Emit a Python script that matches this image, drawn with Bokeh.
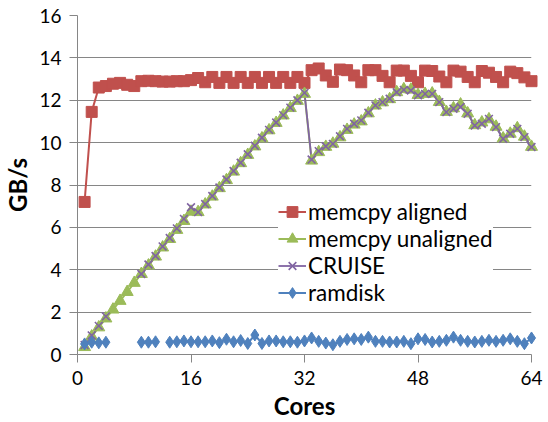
from bokeh.plotting import figure
from bokeh.models import Range1d, FixedTicker, Legend, LegendItem
from bokeh.embed import file_html
from bokeh.resources import INLINE

nan = float("nan")

cores = list(range(1, 65))

memcpy_aligned = [
    7.2, 11.45, 12.6, 12.67, 12.78, 12.82, 12.73, 12.67, 12.9, 12.92,
    12.9, 12.88, 12.88, 12.9, 12.9, 12.95, 13.05, 12.85, 13.1, 12.82,
    13.1, 12.82, 13.1, 12.82, 13.1, 12.82, 13.1, 12.82, 13.1, 12.82,
    13.1, 12.82, 13.42, 13.5, 13.17, 12.87, 13.45, 13.42, 13.17, 12.85,
    13.42, 13.42, 13.15, 12.85, 13.4, 13.4, 13.15, 12.85, 13.4, 13.38,
    13.12, 12.85, 13.4, 13.35, 13.1, 12.85, 13.38, 13.3, 13.1, 12.85,
    13.35, 13.28, 13.08, 12.9,
]

memcpy_unaligned = [
    0.35, 0.85, 1.28, 1.7, 2.12, 2.53, 2.95, 3.38, 3.8, 4.2,
    4.62, 5.05, 5.45, 5.88, 6.3, 6.74, 6.72, 7.08, 7.45, 7.85,
    8.23, 8.63, 9.03, 9.42, 9.82, 10.2, 10.58, 10.93, 11.28, 11.63,
    11.97, 12.3, 9.15, 9.55, 9.8, 9.95, 10.25, 10.6, 10.85, 11.0,
    11.38, 11.75, 11.9, 12.05, 12.38, 12.52, 12.5, 12.25, 12.3, 12.32,
    11.92, 11.45, 11.62, 11.8, 11.38, 10.82, 10.95, 11.1, 10.75, 10.2,
    10.42, 10.68, 10.28, 9.8,
]

cruise = [
    0.45, 0.9, 1.35, 1.8, nan, nan, nan, nan, 3.8, 4.25,
    4.65, 5.1, 5.5, 5.95, 6.4, 6.95, 6.72, 7.1, 7.48, 7.88,
    8.26, 8.66, 9.05, 9.45, 9.85, 10.23, 10.6, 10.95, 11.3, 11.65,
    12.0, 12.35, 9.2, 9.6, 9.83, 9.94, 10.3, 10.65, 10.89, 11.05,
    11.41, 11.76, 11.91, 12.07, 12.38, 12.49, 12.46, 12.23, 12.3, 12.3,
    11.91, 11.44, 11.6, 11.68, 11.36, 10.81, 10.89, 11.12, 10.73, 10.18,
    10.42, 10.65, 10.26, 9.79,
]

ramdisk = [
    0.5, 0.58, 0.55, 0.58, nan, nan, nan, nan, 0.58, 0.58,
    0.6, nan, 0.58, 0.6, 0.64, 0.6, 0.6, 0.6, 0.64, 0.56,
    0.72, 0.6, 0.66, 0.52, 0.92, 0.52, 0.64, 0.64, 0.6, 0.6,
    0.58, 0.64, 0.78, 0.62, 0.54, 0.46, 0.62, 0.71, 0.74, 0.71,
    0.82, 0.62, 0.62, 0.59, 0.59, 0.62, 0.51, 0.74, 0.71, 0.59,
    0.62, 0.67, 0.82, 0.67, 0.62, 0.59, 0.62, 0.67, 0.62, 0.67,
    0.74, 0.62, 0.51, 0.78,
]

x_ticks = [0, 16, 32, 48, 64]
y_ticks = [0, 2, 4, 6, 8, 10, 12, 14, 16]

FONT = "Lato"
GRID = "#868686"

p = figure(width=548, height=422, output_backend="svg", toolbar_location=None,
           x_range=Range1d(0, 64), y_range=Range1d(0, 16),
           min_border_left=76, min_border_right=17, min_border_top=15,
           min_border_bottom=68)
p.outline_line_color = None
p.background_fill_color = "white"
p.border_fill_color = "white"

p.xgrid.visible = False
p.ygrid.grid_line_color = GRID
p.ygrid.grid_line_width = 1
p.ygrid.ticker = FixedTicker(ticks=y_ticks)

for ax in (p.xaxis[0], p.yaxis[0]):
    ax.axis_line_color = GRID
    ax.major_tick_line_color = GRID
    ax.major_tick_out = 8
    ax.major_tick_in = 0
    ax.minor_tick_line_color = None
    ax.major_label_text_font = FONT
    ax.major_label_text_font_size = "19px"
    ax.major_label_text_color = "black"
    ax.axis_label_text_font = FONT
    ax.axis_label_text_font_size = "24px"
    ax.axis_label_text_font_style = "bold"
    ax.axis_label_text_color = "black"

p.yaxis.major_label_standoff = 8
p.yaxis.axis_label_standoff = 4
p.xaxis.major_label_standoff = 8
p.xaxis.axis_label_standoff = 3

p.xaxis.ticker = FixedTicker(ticks=x_ticks)
p.yaxis.ticker = FixedTicker(ticks=y_ticks)
p.xaxis.axis_label = "Cores"
p.yaxis.axis_label = "GB/s"

RED = "#C0504D"
GREEN = "#9BBB59"
PURPLE = "#8064A2"
BLUE = "#4F81BD"

items = []

l1 = p.line(cores, memcpy_aligned, line_color=RED, line_width=2)
s1 = p.scatter(cores, memcpy_aligned, marker="square", size=11,
               fill_color=RED, line_color=RED, level="overlay")
items.append(LegendItem(label="memcpy aligned", renderers=[l1, s1]))

l2 = p.line(cores, memcpy_unaligned, line_color=GREEN, line_width=2)
s2 = p.scatter(cores, memcpy_unaligned, marker="triangle", size=12,
               fill_color=GREEN, line_color=GREEN, level="overlay")
items.append(LegendItem(label="memcpy unaligned", renderers=[l2, s2]))

l3 = p.line(cores, cruise, line_color=PURPLE, line_width=1.8)
s3 = p.scatter(cores, cruise, marker="x", size=11, line_color=PURPLE,
               line_width=1.6, level="overlay")
items.append(LegendItem(label="CRUISE", renderers=[l3, s3]))

l4 = p.line(cores, ramdisk, line_color=BLUE, line_width=2)
s4 = p.scatter(cores, ramdisk, marker="diamond", size=12,
               fill_color=BLUE, line_color=BLUE, level="overlay")
items.append(LegendItem(label="ramdisk", renderers=[l4, s4]))

legend = Legend(items=items, location=(201, 48))
legend.label_text_font = FONT
legend.label_text_font_size = "22.5px"
legend.label_text_color = "black"
legend.glyph_width = 28
legend.glyph_height = 27
legend.label_height = 27
legend.label_standoff = 2
legend.spacing = 0
legend.padding = 5
legend.margin = 0
legend.border_line_color = None
legend.background_fill_color = "white"
legend.background_fill_alpha = 1.0
p.add_layout(legend, "center")

open("out.html", "w").write(file_html(p, INLINE))
